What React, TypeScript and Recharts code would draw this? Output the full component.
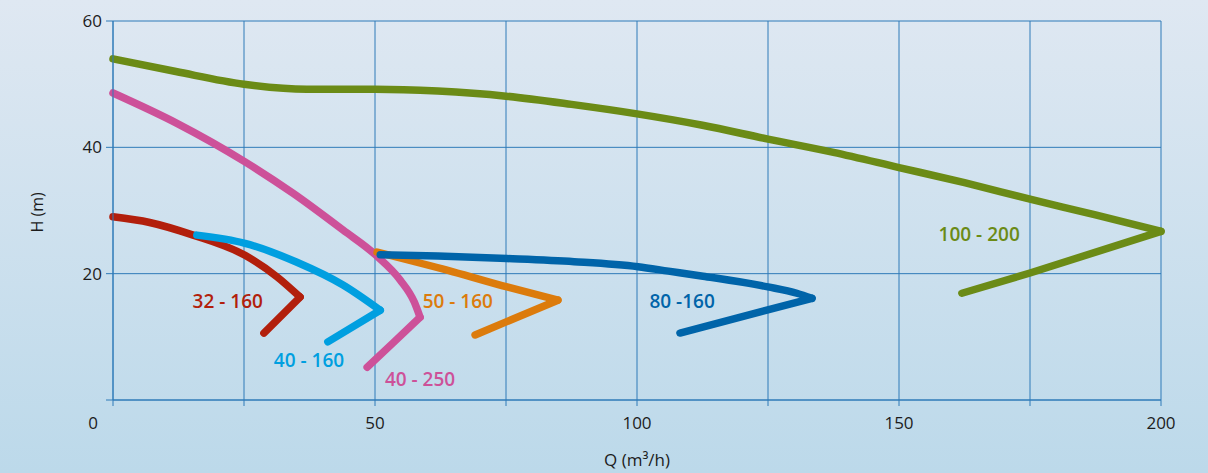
import React from 'react'
import { LineChart, Line, XAxis, YAxis, CartesianGrid, ReferenceDot } from 'recharts'

// pump curves: flow Q (m³/h) and head H (m)
// each curve runs out to its turning point and then folds back
const q32_160 = [0, 7, 15.3, 25.2, 31.3, 35.7, 28.8]
const h32_160 = [29.0, 28.1, 26.1, 22.9, 19.5, 16.3, 10.6]

const q40_160 = [16, 25.2, 35.1, 43.9, 51, 41]
const h40_160 = [26.1, 24.8, 21.8, 18.2, 14.2, 9.2]

const q40_250 = [0, 12.2, 25.2, 34.4, 43.9, 50.2, 54.8, 57.5, 58.6, 53.4, 48.5]
const h40_250 = [48.6, 43.8, 37.7, 32.7, 26.9, 22.9, 19.0, 15.5, 13.1, 9.0, 5.2]

const q50_160 = [50.4, 64.9, 75.2, 84.9, 69.1]
const h50_160 = [23.4, 20.3, 17.9, 15.8, 10.3]

const q80_160 = [51, 62, 75.2, 88, 100.2, 106, 112.6, 125, 130.5, 133.4, 108.2]
const h80_160 = [23.0, 22.8, 22.4, 21.9, 21.1, 20.4, 19.6, 17.9, 16.9, 16.1, 10.6]

const q100_200 = [0, 12, 25, 37, 50, 62, 75, 87.5, 100, 112.5, 125, 137.5, 150, 162.5, 175, 187.5, 200, 175, 162]
const h100_200 = [54.0, 52.0, 50.0, 49.2, 49.2, 48.9, 48.1, 46.8, 45.3, 43.5, 41.3, 39.2, 36.8, 34.4, 31.8, 29.3, 26.7, 20.1, 16.9]

const xTicks = [0, 25, 50, 75, 100, 125, 150, 175, 200]
const yTicks = [0, 20, 40, 60]

const build = (q: number[], h: number[]) => q.map((x, i) => ({ q: x, h: h[i] }))

// split at the point of maximum flow: smooth rising part, straight return
const split = (q: number[], h: number[]) => {
  const pts = build(q, h)
  const k = q.indexOf(Math.max(...q))
  return { upper: pts.slice(0, k + 1), lower: pts.slice(k) }
}

const series = [
  { name: '32 - 160', ...split(q32_160, h32_160), color: '#b21f0c', lx: 21.9, ly: 15.7 },
  { name: '40 - 160', ...split(q40_160, h40_160), color: '#009fe0', lx: 37.4, ly: 6.3 },
  { name: '40 - 250', ...split(q40_250, h40_250), color: '#cd5199', lx: 58.6, ly: 3.3 },
  { name: '50 - 160', ...split(q50_160, h50_160), color: '#dc7b0c', lx: 65.8, ly: 15.7 },
  { name: '80 -160', ...split(q80_160, h80_160), color: '#0064a9', lx: 108.6, ly: 15.7 },
  { name: '100 - 200', ...split(q100_200, h100_200), color: '#6b8b16', lx: 165.3, ly: 26.3 },
]

const gridColor = '#2f7bb8'
const font = '"Open Sans", sans-serif'

const XTick = ({ x, y, payload }: any) => {
  if (payload.value % 50 !== 0) return null
  const dx = payload.value === 0 ? -20 : 0
  return (
    <text x={x + dx} y={y + 21} textAnchor="middle" fontSize={17} fill="#1c1c1c" fontFamily={font}>
      {payload.value}
    </text>
  )
}

const YTick = ({ x, y, payload }: any) => {
  if (payload.value === 0) return null
  return (
    <text x={x - 2} y={y + 6} textAnchor="end" fontSize={17} fill="#1c1c1c" fontFamily={font}>
      {payload.value}
    </text>
  )
}

export default function App() {
  return (
    <div
      style={{
        position: 'absolute',
        left: 0,
        top: 0,
        width: 1208,
        height: 473,
        background: 'linear-gradient(180deg, #dfe8f2 0%, #bcd9ea 100%)',
      }}
    >
      <LineChart width={1208} height={473} margin={{ top: 21, right: 47, left: 0, bottom: 0 }}>
        <CartesianGrid stroke={gridColor} strokeWidth={1} />
        <XAxis
          dataKey="q"
          type="number"
          domain={[0, 200]}
          ticks={xTicks}
          tick={<XTick />}
          stroke={gridColor}
          tickSize={6}
          height={73}
          allowDuplicatedCategory={false}
          label={{ value: 'Q (m³/h)', position: 'insideBottom', dx: 0, dy: -2, fontSize: 17, fill: '#1c1c1c', fontFamily: font }}
        />
        <YAxis
          dataKey="h"
          type="number"
          domain={[0, 60]}
          ticks={yTicks}
          tick={<YTick />}
          stroke={gridColor}
          tickSize={7}
          width={113}
          label={{ value: 'H (m)', angle: -90, position: 'insideLeft', dx: 32, dy: 22, fontSize: 16, fill: '#1c1c1c', fontFamily: font }}
        />
        {series.map((s) => (
          <Line
            key={s.name}
            data={s.upper}
            dataKey="h"
            type="monotoneX"
            stroke={s.color}
            strokeWidth={7.5}
            strokeLinecap="round"
            strokeLinejoin="round"
            dot={false}
            isAnimationActive={false}
          />
        ))}
        {series.map((s) => (
          <Line
            key={'r' + s.name}
            data={s.lower}
            dataKey="h"
            type="linear"
            stroke={s.color}
            strokeWidth={7.5}
            strokeLinecap="round"
            strokeLinejoin="round"
            dot={false}
            isAnimationActive={false}
          />
        ))}
        {series.map((s) => (
          <ReferenceDot
            key={'l' + s.name}
            x={s.lx}
            y={s.ly}
            r={0}
            stroke="none"
            label={{ value: s.name, position: 'center', fill: s.color, fontSize: 19, fontWeight: 600, fontFamily: font }}
          />
        ))}
      </LineChart>
    </div>
  )
}
